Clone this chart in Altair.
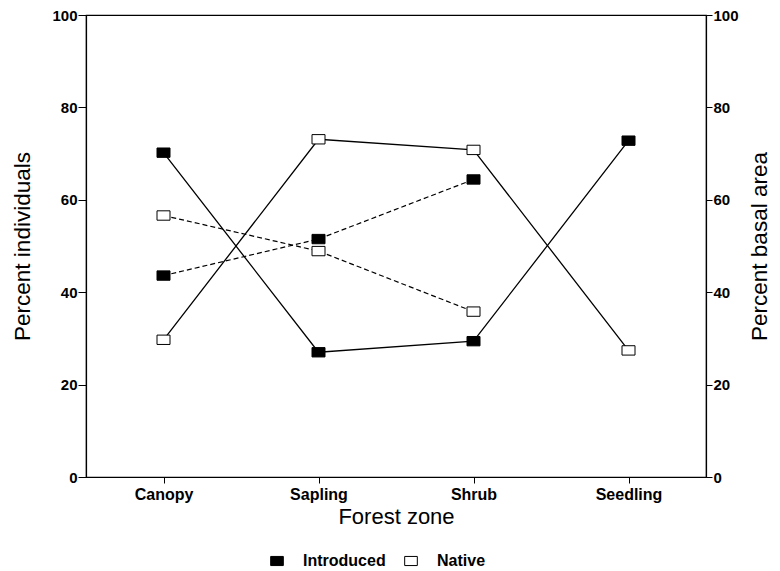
import altair as alt
import pandas as pd

zones = ["Canopy", "Sapling", "Shrub", "Seedling"]
ind_introduced = [70.2, 27.0, 29.4, 72.8]
ind_native = [29.7, 73.1, 70.8, 27.4]
ba_zones = ["Canopy", "Sapling", "Shrub"]
ba_introduced = [43.6, 51.5, 64.4]
ba_native = [56.6, 48.9, 35.8]

rows = []
for z, a, b in zip(zones, ind_introduced, ind_native):
    rows.append({"zone": z, "series": "Introduced", "measure": "ind", "value": a})
    rows.append({"zone": z, "series": "Native", "measure": "ind", "value": b})
for z, a, b in zip(ba_zones, ba_introduced, ba_native):
    rows.append({"zone": z, "series": "Introduced", "measure": "ba", "value": a})
    rows.append({"zone": z, "series": "Native", "measure": "ba", "value": b})
df = pd.DataFrame(rows)

FONT = "Liberation Sans"
RECT = "M-1,-0.72L1,-0.72L1,0.72L-1,0.72Z"

x_enc = alt.X(
    "zone:N", sort=zones,
    axis=alt.Axis(title="Forest zone", labelAngle=0, labelFontWeight="bold",
                  labelFontSize=16, titleFontSize=22, titleFontWeight="normal",
                  tickSize=6, labelPadding=3, titlePadding=4),
)
fill_enc = alt.Fill(
    "series:N",
    scale=alt.Scale(domain=["Introduced", "Native"], range=["black", "white"]),
    legend=alt.Legend(title=None, orient="none", direction="horizontal",
                      legendX=183, legendY=538, symbolType=RECT,
                      symbolSize=160, symbolStrokeColor="black",
                      symbolStrokeWidth=1, labelFontSize=16,
                      labelFontWeight="bold", columnPadding=16, labelOffset=18),
)

y_left = alt.Y("value:Q", scale=alt.Scale(domain=[0, 100]),
               axis=alt.Axis(title="Percent individuals", values=[0, 20, 40, 60, 80, 100],
                             labelFontWeight="bold", labelFontSize=15,
                             titleFontSize=22.5, titleFontWeight="normal",
                             tickSize=8, labelPadding=1, titlePadding=17))
y_right = alt.Y("value:Q", scale=alt.Scale(domain=[0, 100]),
                axis=alt.Axis(title="Percent basal area", orient="right",
                              values=[0, 20, 40, 60, 80, 100],
                              labelFontWeight="bold", labelFontSize=15,
                              titleFontSize=22.5, titleFontWeight="normal",
                              titleAngle=270, titleBaseline="bottom",
                              tickSize=6, labelPadding=1, titlePadding=33))

ind = alt.Chart(df).transform_filter(alt.datum.measure == "ind")
ba = alt.Chart(df).transform_filter(alt.datum.measure == "ba")

ind_lines = ind.mark_line(color="black", strokeWidth=1.3).encode(
    x=x_enc, y=y_left, detail="series:N")
ind_pts = ind.mark_point(shape=RECT, filled=True, size=169, stroke="black",
                         strokeWidth=1, opacity=1).encode(x=x_enc, y=y_left, fill=fill_enc)
ba_lines = ba.mark_line(color="black", strokeWidth=1.2, strokeDash=[5, 3]).encode(
    x=x_enc, y=y_right, detail="series:N")
ba_pts = ba.mark_point(shape=RECT, filled=True, size=169, stroke="black",
                       strokeWidth=1, opacity=1).encode(x=x_enc, y=y_right, fill=fill_enc)

chart = alt.layer(
    alt.layer(ind_lines, ind_pts),
    alt.layer(ba_lines, ba_pts),
).resolve_scale(y="independent").properties(
    width=620, height=462, background="white",
    padding={"left": 3, "top": 0, "right": 0, "bottom": 0},
).configure_view(
    stroke="black", strokeWidth=1.2
).configure_axis(
    domainColor="black", tickColor="black", labelColor="black", titleColor="black",
    grid=False, labelFont=FONT, titleFont=FONT, domainWidth=1.2,
).configure_legend(
    labelFont=FONT, labelColor="black"
)

chart.save("out.html", embed_options={"renderer": "svg", "actions": False})
